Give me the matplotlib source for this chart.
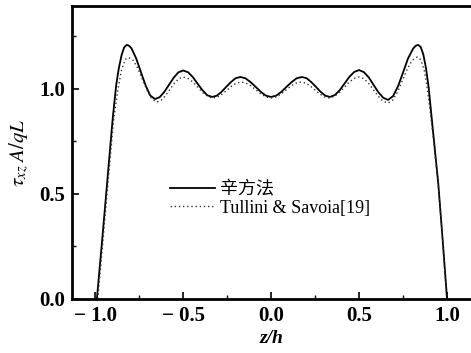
import matplotlib
matplotlib.use('Agg')
import matplotlib.pyplot as plt

# solid curve (辛方法)
z_sym = [-0.99, -0.96, -0.93, -0.90, -0.88, -0.865, -0.85, -0.835, -0.82,
         -0.806, -0.793, -0.767, -0.740, -0.713, -0.687, -0.66,
         -0.633, -0.607, -0.580, -0.553, -0.527, -0.50,
         -0.4725, -0.445, -0.4175, -0.39, -0.3625, -0.335,
         -0.308, -0.282, -0.255, -0.228, -0.202, -0.175,
         -0.146, -0.117, -0.0875, -0.058, -0.029, 0.0,
         0.029, 0.058, 0.0875, 0.117, 0.146, 0.175,
         0.202, 0.228, 0.255, 0.282, 0.308, 0.335,
         0.3625, 0.39, 0.4175, 0.445, 0.4725, 0.50,
         0.5275, 0.555, 0.5825, 0.61, 0.6375, 0.665,
         0.693, 0.722, 0.75, 0.778, 0.807, 0.821, 0.835,
         0.85, 0.865, 0.88, 0.895, 0.92, 0.95, 0.975, 1.0]
tau_sym = [0.00, 0.28, 0.57, 0.86, 1.02, 1.10, 1.16, 1.198, 1.21,
           1.205, 1.193, 1.146, 1.081, 1.017, 0.969, 0.952,
           0.961, 0.986, 1.020, 1.054, 1.079, 1.088,
           1.080, 1.057, 1.025, 0.994, 0.970, 0.962,
           0.968, 0.986, 1.010, 1.033, 1.051, 1.057,
           1.051, 1.033, 1.010, 0.986, 0.968, 0.962,
           0.968, 0.986, 1.010, 1.033, 1.051, 1.057,
           1.051, 1.033, 1.010, 0.986, 0.968, 0.962,
           0.971, 0.994, 1.026, 1.058, 1.081, 1.090,
           1.080, 1.055, 1.019, 0.984, 0.958, 0.948,
           0.966, 1.014, 1.079, 1.145, 1.192, 1.205, 1.21,
           1.20, 1.165, 1.10, 1.01, 0.80, 0.55, 0.28, 0.0]

# dotted curve (Tullini & Savoia)
z_ts = [-0.985, -0.955, -0.925, -0.895, -0.87, -0.85, -0.83, -0.81,
        -0.783, -0.757, -0.73, -0.703, -0.677, -0.65,
        -0.625, -0.60, -0.575, -0.55, -0.525, -0.50,
        -0.472, -0.443, -0.415, -0.387, -0.358, -0.33,
        -0.303, -0.277, -0.25, -0.223, -0.197, -0.17,
        -0.142, -0.113, -0.085, -0.057, -0.028, 0.0,
        0.028, 0.057, 0.085, 0.113, 0.142, 0.17,
        0.197, 0.223, 0.25, 0.277, 0.303, 0.33,
        0.358, 0.387, 0.415, 0.443, 0.472, 0.50,
        0.5275, 0.555, 0.5825, 0.61, 0.6375, 0.665,
        0.6925, 0.72, 0.7475, 0.775, 0.8025, 0.83,
        0.85, 0.87, 0.89, 0.92, 0.95, 0.975, 0.998]
tau_ts = [0.00, 0.28, 0.57, 0.85, 1.00, 1.09, 1.14, 1.15,
          1.136, 1.097, 1.044, 0.991, 0.952, 0.938,
          0.946, 0.968, 0.998, 1.027, 1.049, 1.057,
          1.050, 1.032, 1.007, 0.982, 0.964, 0.957,
          0.962, 0.976, 0.995, 1.014, 1.028, 1.033,
          1.028, 1.014, 0.995, 0.976, 0.962, 0.957,
          0.962, 0.976, 0.995, 1.014, 1.028, 1.033,
          1.028, 1.014, 0.995, 0.976, 0.962, 0.957,
          0.964, 0.982, 1.007, 1.032, 1.050, 1.057,
          1.049, 1.026, 0.995, 0.964, 0.941, 0.933,
          0.948, 0.988, 1.043, 1.097, 1.137, 1.152,
          1.14, 1.09, 0.99, 0.78, 0.54, 0.28, 0.0]

labels = ['辛方法', 'Tullini & Savoia[19]']
xticks = [-1.0, -0.5, 0.0, 0.5, 1.0]
yticks = [0.0, 0.5, 1.0]

serif = ['Liberation Serif', 'Noto Sans CJK SC']
plt.rcParams['font.family'] = serif
plt.rcParams['mathtext.fontset'] = 'stix'

fig = plt.figure(figsize=(4.71, 3.53), dpi=100)
ax = fig.add_axes([0.153, 0.153, 0.847, 0.830])

ax.plot(z_sym, tau_sym, color='black', lw=1.3, label=labels[0])
ax.plot(z_ts, tau_ts, color='#333333', lw=1.0, linestyle=(0, (1, 2)), label=labels[1])

ax.set_xlim(-1.131, 1.136)
ax.set_ylim(0, 1.395)
ax.set_xticks(xticks)
ax.set_yticks(yticks)
ax.set_xticks([-0.75, -0.25, 0.25, 0.75], minor=True)
ax.set_yticks([0.25, 0.75, 1.25], minor=True)
ax.set_xticklabels(['− 1.0', '− 0.5', '0.0', '0.5', '1.0'])
ax.set_yticklabels(['0.0', '0.5', '1.0'])
ax.tick_params(which='major', direction='in', length=5, width=1.2, labelsize=15, pad=5)
ax.tick_params(which='minor', direction='in', length=3, width=1.0)
for lab in ax.get_xticklabels() + ax.get_yticklabels():
    lab.set_fontweight('bold')

ax.spines['right'].set_visible(False)
for s in ['left', 'bottom', 'top']:
    ax.spines[s].set_linewidth(2.0)

ax.set_xlabel('z/h', fontsize=14, fontstyle='italic', fontweight='bold', labelpad=3)
ax.set_ylabel(r'$\tau_{xz}\;A/qL$', fontsize=15, labelpad=6)

leg = ax.legend(loc='center left', bbox_to_anchor=(0.2456, 0.341), frameon=False,
                prop={'family': serif, 'size': 13}, handlelength=2.5,
                handletextpad=0.25, labelspacing=0.05, borderpad=0, borderaxespad=0)

fig.savefig('out.png', dpi=100)
